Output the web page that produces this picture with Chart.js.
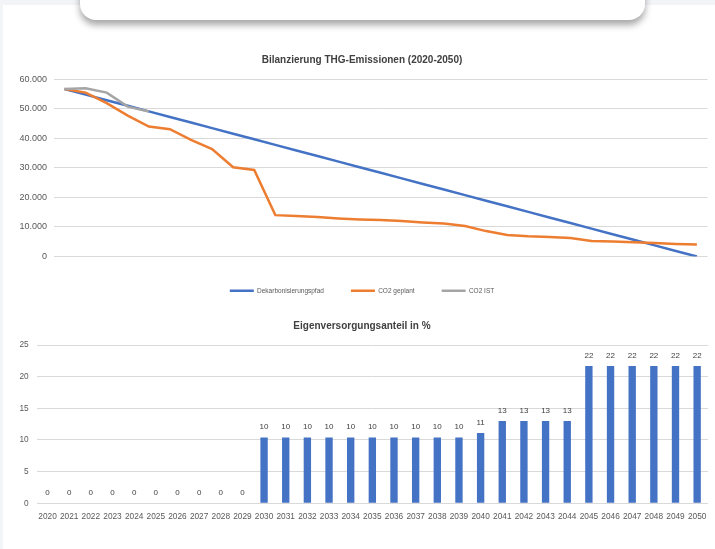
<!DOCTYPE html>
<html>
<head>
<meta charset="utf-8">
<script src="https://cdn.jsdelivr.net/npm/chart.js@4.4.1/dist/chart.umd.min.js"></script>
<style>
    html, body { margin: 0; padding: 0; }
    body { width: 715px; height: 549px; background: #f2f4f8; position: relative; overflow: hidden; font-family: "Liberation Sans", Arial, sans-serif; }
    #page { position: absolute; left: 3px; top: 5px; width: 712px; height: 544px; background: #ffffff; }
    #card { position: absolute; left: 80px; top: -30px; width: 565px; height: 50px; background: #ffffff; border-radius: 16px; box-shadow: 0 5px 7px rgba(0, 0, 0, 0.35); }
    .box { position: absolute; left: 16px; width: 699px; }
    #box1 { top: 45px; height: 259px; }
    #box2 { top: 305px; height: 222px; }
</style>
</head>
<body>
<div id="page"></div>
<div id="card"></div>
<div class="box" id="box1"><canvas id="myChart1"></canvas></div>
<div class="box" id="box2"><canvas id="myChart2"></canvas></div>
<script>
// Daten
var years = ['2020', '2021', '2022', '2023', '2024', '2025', '2026', '2027', '2028', '2029', '2030',
    '2031', '2032', '2033', '2034', '2035', '2036', '2037', '2038', '2039', '2040',
    '2041', '2042', '2043', '2044', '2045', '2046', '2047', '2048', '2049', '2050'];
var dekarbonisierungspfad = [56700, 54810, 52920, 51030, 49140, 47250, 45360, 43470, 41580, 39690, 37800,
    35910, 34020, 32130, 30240, 28350, 26460, 24570, 22680, 20790, 18900,
    17010, 15120, 13230, 11340, 9450, 7560, 5670, 3780, 1890, 0];
var co2Geplant = [56700, 55500, 51900, 47700, 44000, 43100, 39500, 36400, 30200, 29300, 14000,
    13700, 13350, 12900, 12550, 12350, 12000, 11550, 11200, 10300, 8600,
    7300, 6850, 6600, 6250, 5250, 5050, 4800, 4600, 4250, 4050];
var co2Ist = [56700, 56950, 55500, 50750, 49100, null, null, null, null, null, null,
    null, null, null, null, null, null, null, null, null, null,
    null, null, null, null, null, null, null, null, null, null];
var eigenversorgung = [0, 0, 0, 0, 0, 0, 0, 0, 0, 0, 10.4,
    10.4, 10.4, 10.4, 10.4, 10.4, 10.4, 10.4, 10.4, 10.4, 11.1,
    13.0, 13.0, 13.0, 13.0, 21.7, 21.7, 21.7, 21.7, 21.7, 21.7];

var fontName = '"Liberation Sans", Arial, sans-serif';
var tickColor = '#595959';
var gridColor = '#d9d9d9';

function tausender(v) {
    return String(v).replace(/\B(?=(\d{3})+(?!\d))/g, '.');
}

// Datenbeschriftung über den Säulen
var barLabels = {
    id: 'barLabels',
    afterDatasetsDraw: function (chart) {
        var ctx = chart.ctx;
        var meta = chart.getDatasetMeta(0);
        ctx.save();
        ctx.font = '8px ' + fontName;
        ctx.fillStyle = '#404040';
        ctx.textAlign = 'center';
        ctx.textBaseline = 'middle';
        meta.data.forEach(function (bar, i) {
            var v = chart.data.datasets[0].data[i];
            ctx.fillText(String(Math.round(v)), bar.x, bar.y - 10.5);
        });
        ctx.restore();
    }
};

// Bilanzierung THG-Emissionen
var ctx1 = document.getElementById('myChart1').getContext('2d');
var myChart1 = new Chart(ctx1, {
    type: 'line',
    data: {
        labels: years,
        datasets: [{
            label: 'Dekarbonisierungspfad',
            data: dekarbonisierungspfad,
            borderColor: '#4472c4',
            backgroundColor: '#4472c4',
            borderWidth: 2.5,
            pointRadius: 0,
            tension: 0,
            order: 2
        }, {
            label: 'CO2 geplant',
            data: co2Geplant,
            borderColor: '#ed7d31',
            backgroundColor: '#ed7d31',
            borderWidth: 2.5,
            pointRadius: 0,
            tension: 0,
            order: 1
        }, {
            label: 'CO2 IST',
            data: co2Ist,
            borderColor: '#a5a5a5',
            backgroundColor: '#a5a5a5',
            borderWidth: 2.5,
            pointRadius: 0,
            tension: 0,
            spanGaps: false,
            order: 0
        }]
    },
    options: {
        responsive: true,
        maintainAspectRatio: false,
        animation: false,
        layout: { padding: { left: 0, right: 7, top: 0, bottom: 0 } },
        plugins: {
            title: {
                display: true,
                text: 'Bilanzierung THG-Emissionen (2020-2050)',
                color: '#404040',
                font: { family: fontName, size: 10, weight: 'bold' },
                padding: { top: 9.5, bottom: 12.8 }
            },
            legend: {
                position: 'bottom',
                labels: {
                    usePointStyle: true,
                    pointStyle: 'line',
                    pointStyleWidth: 24,
                    padding: 27,
                    color: tickColor,
                    font: { family: fontName, size: 6.5 },
                    sort: function (a, b) { return a.datasetIndex - b.datasetIndex; }
                }
            },
            tooltip: { enabled: false }
        },
        scales: {
            x: {
                offset: true,
                grid: { display: false },
                border: { display: false },
                ticks: { color: tickColor, font: { family: fontName, size: 9 }, padding: 8, autoSkip: false, maxRotation: 0, minRotation: 0 },
                afterFit: function (s) { s.height = 4; }
            },
            y: {
                min: 0,
                max: 60000,
                grid: { color: gridColor, drawTicks: false },
                border: { display: false },
                ticks: { stepSize: 10000, color: tickColor, font: { family: fontName, size: 9 }, padding: 7, callback: tausender },
                afterFit: function (s) { s.width = 38; }
            }
        }
    }
});

// Eigenversorgungsanteil
var ctx2 = document.getElementById('myChart2').getContext('2d');
var myChart2 = new Chart(ctx2, {
    type: 'bar',
    data: {
        labels: years,
        datasets: [{
            label: 'Eigenversorgungsanteil in %',
            data: eigenversorgung,
            backgroundColor: '#4472c4',
            borderWidth: 0,
            barPercentage: 0.34,
            categoryPercentage: 1.0
        }]
    },
    options: {
        responsive: true,
        maintainAspectRatio: false,
        animation: false,
        layout: { padding: { left: 0, right: 7, top: 0, bottom: 0 } },
        plugins: {
            title: {
                display: true,
                text: 'Eigenversorgungsanteil in %',
                color: '#404040',
                font: { family: fontName, size: 10, weight: 'bold' },
                padding: { top: 15, bottom: 13 }
            },
            legend: { display: false },
            tooltip: { enabled: false }
        },
        scales: {
            x: {
                grid: { display: false, drawTicks: false },
                border: { display: false },
                ticks: { color: tickColor, font: { family: fontName, size: 8.3 }, padding: 8.5, autoSkip: false, maxRotation: 0, minRotation: 0 },
                afterFit: function (s) { s.height = 23.7; }
            },
            y: {
                min: 0,
                max: 25,
                grid: { color: gridColor, drawTicks: false },
                border: { display: false },
                ticks: { stepSize: 5, color: tickColor, font: { family: fontName, size: 8.3 }, padding: 8 },
                afterFit: function (s) { s.width = 20.7; }
            }
        }
    },
    plugins: [barLabels]
});
</script>
</body>
</html>
